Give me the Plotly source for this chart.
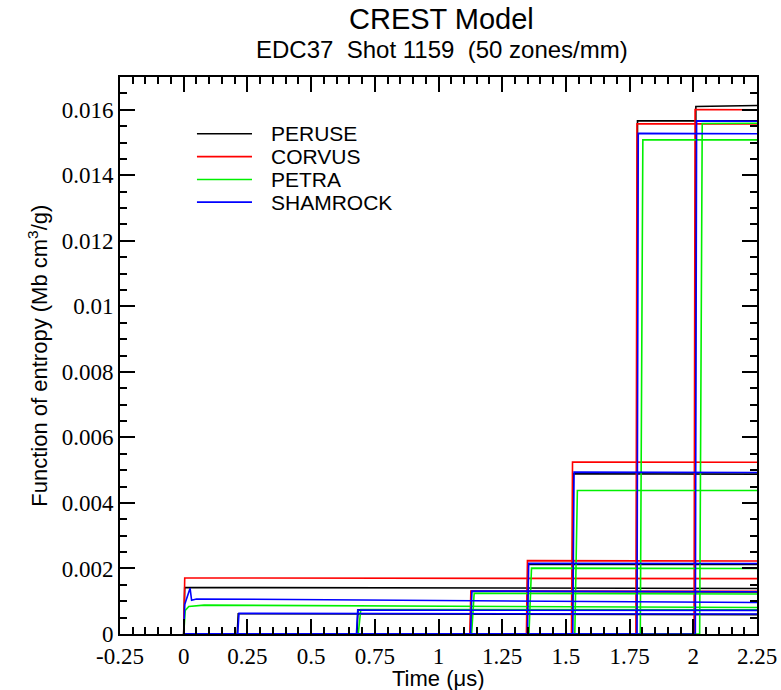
import plotly.graph_objects as go

# ---------------- data ----------------
CODES = ["PERUSE", "CORVUS", "PETRA", "SHAMROCK"]
COLORS = ["#000000", "#ff0000", "#00f000", "#0000ff"]

X_TICKS = [-0.25, 0, 0.25, 0.5, 0.75, 1, 1.25, 1.5, 1.75, 2, 2.25]
X_TICK_TEXT = ["-0.25", "0", "0.25", "0.5", "0.75", "1", "1.25", "1.5", "1.75", "2", "2.25"]
Y_TICKS = [0, 0.002, 0.004, 0.006, 0.008, 0.01, 0.012, 0.014, 0.016]
Y_TICK_TEXT = ["0", "0.002", "0.004", "0.006", "0.008", "0.01", "0.012", "0.014", "0.016"]

T_START = 0.0
T_END = 2.25

# arrival time of each zone, plateau value just after arrival, plateau value at T_END
PERUSE_T = [0.0, 0.210, 0.680, 1.125, 1.347, 1.525, 1.777, 2.006]
PERUSE_V0 = [0.00142, 0.00062, 0.00074, 0.00130, 0.00213, 0.00489, 0.01566, 0.01610]
PERUSE_V1 = [0.00139, 0.00059, 0.00073, 0.00128, 0.00212, 0.00488, 0.01566, 0.01613]

CORVUS_T = [0.0, 1.123, 1.345, 1.522, 1.775, 2.003]
CORVUS_V0 = [0.00171, 0.00131, 0.00224, 0.00525, 0.01557, 0.01601]
CORVUS_V1 = [0.00169, 0.00130, 0.00223, 0.00524, 0.01557, 0.01600]

PETRA_T = [0.685, 1.130, 1.355, 1.535, 1.792, 2.025]
PETRA_V0 = [0.00075, 0.00124, 0.00201, 0.00438, 0.01508, 0.01558]
PETRA_V1 = [0.00074, 0.00122, 0.00200, 0.00438, 0.01508, 0.01559]
# first zone of PETRA (early transient)
PETRA_FIRST_T = [0.0, 0.006, 0.020, 0.080, 2.25]
PETRA_FIRST_V = [0.0, 0.00072, 0.00084, 0.00088, 0.00081]

SHAMROCK_T = [0.212, 0.678, 1.126, 1.349, 1.527, 1.779, 2.008]
SHAMROCK_V0 = [0.00063, 0.00073, 0.00131, 0.00216, 0.00494, 0.01528, 0.01566]
SHAMROCK_V1 = [0.00061, 0.00072, 0.00129, 0.00215, 0.00493, 0.01527, 0.01565]
# first zone of SHAMROCK (overshoot at the surface)
SHAMROCK_FIRST_T = [0.0, 0.004, 0.025, 0.031, 0.050, 2.25]
SHAMROCK_FIRST_V = [0.0, 0.00090, 0.00140, 0.00103, 0.00107, 0.00096]

SERIES = {
    "PERUSE": (PERUSE_T, PERUSE_V0, PERUSE_V1, None, None),
    "CORVUS": (CORVUS_T, CORVUS_V0, CORVUS_V1, None, None),
    "PETRA": (PETRA_T, PETRA_V0, PETRA_V1, PETRA_FIRST_T, PETRA_FIRST_V),
    "SHAMROCK": (SHAMROCK_T, SHAMROCK_V0, SHAMROCK_V1, SHAMROCK_FIRST_T, SHAMROCK_FIRST_V),
}
RISE = {"PERUSE": 0.004, "CORVUS": 0.004, "PETRA": 0.010, "SHAMROCK": 0.005}
LW = 1.6

# ---------------- figure ----------------
fig = go.Figure()
for code, color in zip(CODES, COLORS):
    ts, v0s, v1s, ft, fv = SERIES[code]
    if ft is not None:
        fig.add_trace(go.Scatter(x=ft, y=fv, mode="lines", name=code,
                                 line=dict(color=color, width=LW),
                                 showlegend=False, legendgroup=code, hoverinfo="x+y+name"))
    for t, v0, v1 in zip(ts, v0s, v1s):
        fig.add_trace(go.Scatter(
            x=[T_START, t, t + RISE[code], T_END],
            y=[0, 0, v0, v1],
            mode="lines", name=code,
            line=dict(color=color, width=LW),
            showlegend=False, legendgroup=code, hoverinfo="x+y+name"))

SANS = "Liberation Sans, Arial, sans-serif"
SERIF = "Times New Roman, Liberation Serif, serif"

# manual legend (line sample + label)
LEG_X0, LEG_X1, LEG_TX = 0.052, 0.268, 0.335
LEG_Y = [0.01527, 0.01457, 0.01387, 0.01318]
for code, color, ly in zip(CODES, COLORS, LEG_Y):
    fig.add_shape(type="line", xref="x", yref="y", x0=LEG_X0, x1=LEG_X1, y0=ly, y1=ly,
                  line=dict(color=color, width=LW))
    fig.add_annotation(x=LEG_TX, y=ly, xref="x", yref="y", text=code, showarrow=False,
                       xanchor="left", yanchor="middle",
                       font=dict(family=SANS, size=21, color="black"))

fig.add_annotation(text="CREST Model", xref="paper", yref="paper", x=0.505, y=1.105,
                   showarrow=False, xanchor="center", yanchor="middle",
                   font=dict(family=SANS, size=29, color="black"))
fig.add_annotation(text="EDC37  Shot 1159  (50 zones/mm)", xref="paper", yref="paper",
                   x=0.505, y=1.050, showarrow=False, xanchor="center", yanchor="middle",
                   font=dict(family=SANS, size=24, color="black"))
fig.add_annotation(text="Time (\u03bcs)", xref="paper", yref="paper", x=0.5, y=-0.079,
                   showarrow=False, xanchor="center", yanchor="middle",
                   font=dict(family=SANS, size=22, color="black"))
fig.add_annotation(text="Function of entropy (Mb cm<sup>3</sup>/g)", xref="paper", yref="paper",
                   x=-0.130, y=0.50, textangle=-90, showarrow=False,
                   xanchor="center", yanchor="middle",
                   font=dict(family=SANS, size=22, color="black"))

axis_common = dict(
    showline=True, linecolor="black", linewidth=2, mirror="allticks",
    ticks="inside", ticklen=15, tickwidth=1.5, tickcolor="black",
    showgrid=False, zeroline=False,
    tickfont=dict(family=SERIF, size=23, color="black"),
)
fig.update_xaxes(range=[-0.25, 2.25], tickmode="array", tickvals=X_TICKS, ticktext=X_TICK_TEXT,
                 minor=dict(dtick=0.05, tick0=0, ticks="inside", ticklen=7, tickwidth=1.5,
                            tickcolor="black", showgrid=False),
                 **axis_common)
fig.update_yaxes(range=[0, 0.017], tickmode="array", tickvals=Y_TICKS, ticktext=Y_TICK_TEXT,
                 minor=dict(dtick=0.0005, tick0=0, ticks="inside", ticklen=7, tickwidth=1.5,
                            tickcolor="black", showgrid=False),
                 **axis_common)

fig.update_layout(
    width=781, height=690,
    margin=dict(l=120, r=24, t=77, b=56, autoexpand=False),
    plot_bgcolor="white", paper_bgcolor="white",
    showlegend=False,
)

fig.write_html("out.html")
